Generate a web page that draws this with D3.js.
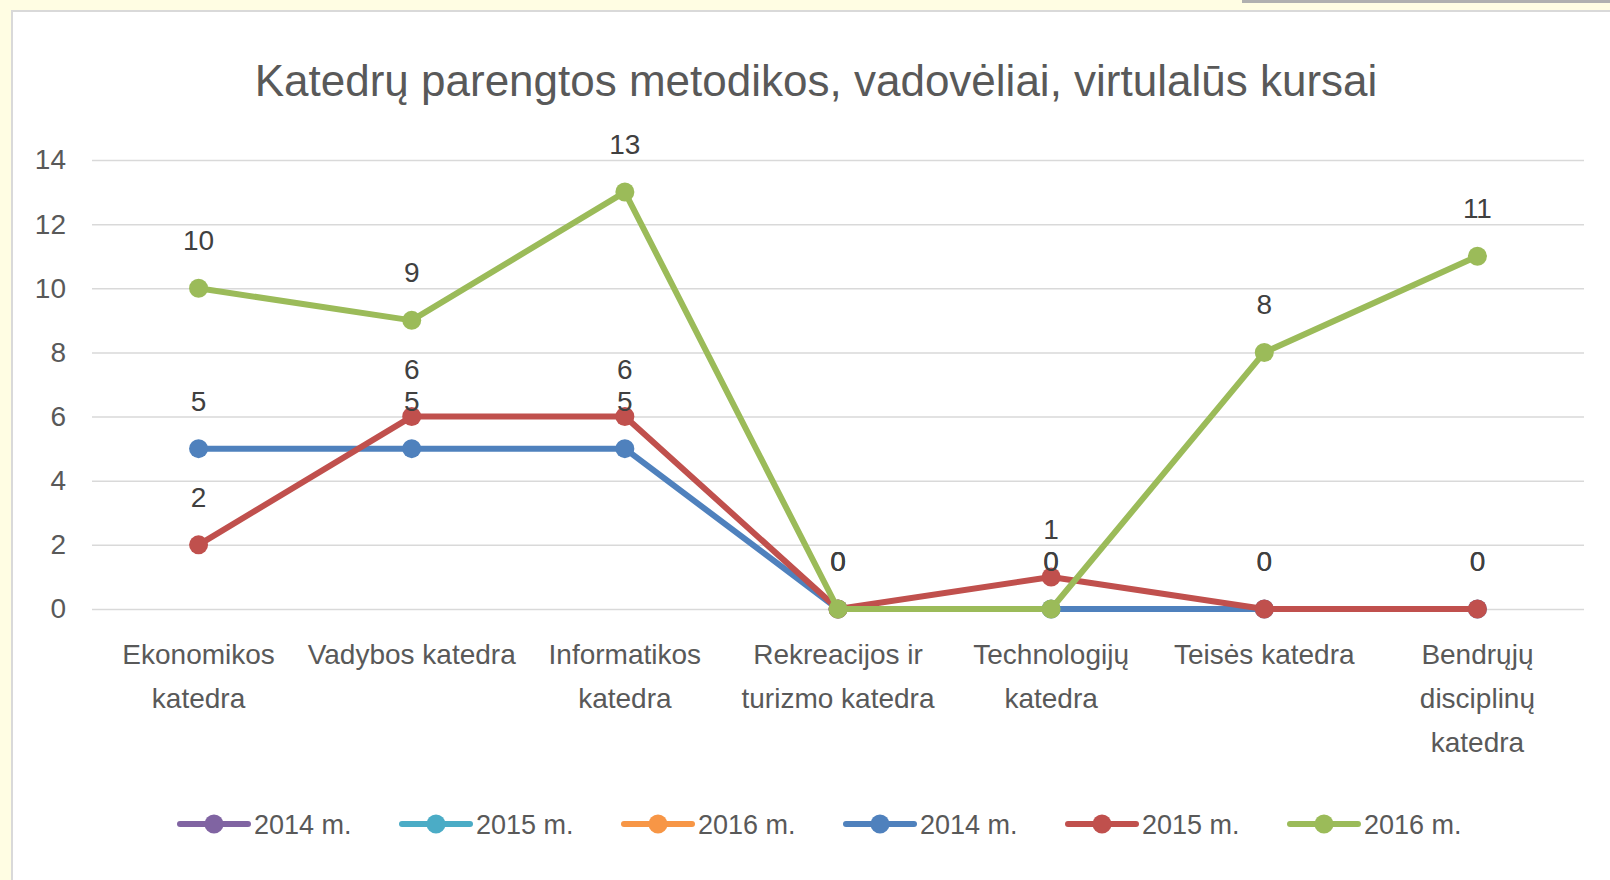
<!DOCTYPE html>
<html>
<head>
<meta charset="utf-8">
<script src="https://cdn.jsdelivr.net/npm/d3@7"></script>
<style>
  html, body { margin: 0; padding: 0; background: #fffde3; }
  svg { display: block; }
</style>
</head>
<body>
<div id="chart"></div>
<script>
// chart data
const categories = [
    ["Ekonomikos", "katedra"],
    ["Vadybos katedra"],
    ["Informatikos", "katedra"],
    ["Rekreacijos ir", "turizmo katedra"],
    ["Technologijų", "katedra"],
    ["Teisės katedra"],
    ["Bendrųjų", "disciplinų", "katedra"]
];
const values2014 = [5, 5, 5, 0, 0, 0, 0];
const values2015 = [2, 6, 6, 0, 1, 0, 0];
const values2016 = [10, 9, 13, 0, 0, 8, 11];
const yTicks = [0, 2, 4, 6, 8, 10, 12, 14];
const legendNames = ["2014 m.", "2015 m.", "2016 m.", "2014 m.", "2015 m.", "2016 m."];
const legendColors = ["#8064A2", "#4BACC6", "#F79646", "#4F81BD", "#C0504D", "#9BBB59"];

const series = [
    {name: "2014 m.", values: values2014, color: "#4F81BD"},
    {name: "2015 m.", values: values2015, color: "#C0504D"},
    {name: "2016 m.", values: values2016, color: "#9BBB59"}
];

const width = 1610, height = 880;
const margin = {top: 160, right: 26, bottom: 271, left: 92};
const font = "'Liberation Sans Narrow', 'Liberation Sans', Arial, sans-serif";

const svg = d3.select("#chart").append("svg")
    .attr("width", width)
    .attr("height", height);

// page background and chart panel
svg.append("rect").attr("width", width).attr("height", height).attr("fill", "#fffde3");
svg.append("rect")
    .attr("x", 12).attr("y", 11)
    .attr("width", width).attr("height", height)
    .attr("fill", "#ffffff")
    .attr("stroke", "#d9d9d9")
    .attr("stroke-width", 2);
svg.append("rect")
    .attr("x", 1242).attr("y", 0)
    .attr("width", width - 1242).attr("height", 3)
    .attr("fill", "#b0b0b0");

svg.append("text")
    .attr("x", 816)
    .attr("y", 96)
    .attr("text-anchor", "middle")
    .attr("font-family", font)
    .attr("font-size", 44)
    .attr("fill", "#595959")
    .text("Katedrų parengtos metodikos, vadovėliai, virtulalūs kursai");

const plotW = width - margin.left - margin.right;
const plotH = height - margin.top - margin.bottom;

const g = svg.append("g").attr("transform", `translate(${margin.left},${margin.top})`);

const x = d3.scalePoint()
    .domain(d3.range(categories.length))
    .range([0, plotW])
    .padding(0.5);

const y = d3.scaleLinear()
    .domain([0, 14])
    .range([plotH, 0]);

// gridlines + y labels
const yAxis = d3.axisLeft(y).tickValues(yTicks).tickSize(-plotW).tickPadding(26);
const yg = g.append("g").call(yAxis);
yg.select(".domain").remove();
yg.selectAll(".tick line").attr("stroke", "#d9d9d9").attr("stroke-width", 1.5);
yg.selectAll(".tick text")
    .attr("font-family", font)
    .attr("font-size", 28)
    .attr("fill", "#595959");

// x category labels
const xg = g.append("g").attr("transform", `translate(0,${plotH})`);
categories.forEach((lines, i) => {
    const t = xg.append("text")
        .attr("x", x(i))
        .attr("y", 55)
        .attr("text-anchor", "middle")
        .attr("font-family", font)
        .attr("font-size", 28)
        .attr("fill", "#595959");
    lines.forEach((ln, j) => {
        t.append("tspan").attr("x", x(i)).attr("dy", j === 0 ? 0 : 44).text(ln);
    });
});

const line = d3.line()
    .x((d, i) => x(i))
    .y(d => y(d));

series.forEach(s => {
    const sg = g.append("g");
    sg.append("path")
        .datum(s.values)
        .attr("d", line)
        .attr("fill", "none")
        .attr("stroke", s.color)
        .attr("stroke-width", 6)
        .attr("stroke-linejoin", "round");
    sg.selectAll("circle")
        .data(s.values)
        .enter().append("circle")
        .attr("cx", (d, i) => x(i))
        .attr("cy", d => y(d))
        .attr("r", 9.5)
        .attr("fill", s.color);
});

// data labels
series.forEach(s => {
    g.append("g").selectAll("text")
        .data(s.values)
        .enter().append("text")
        .attr("x", (d, i) => x(i))
        .attr("y", d => y(d) - 38)
        .attr("text-anchor", "middle")
        .attr("font-family", font)
        .attr("font-size", 28)
        .attr("fill", "#404040")
        .text(d => d);
});

// legend
const legend = svg.append("g").attr("transform", "translate(180,824)");
legendNames.forEach((name, i) => {
    const lg = legend.append("g").attr("transform", `translate(${i * 222},0)`);
    lg.append("line")
        .attr("x1", 0).attr("x2", 68)
        .attr("stroke", legendColors[i])
        .attr("stroke-width", 6)
        .attr("stroke-linecap", "round");
    lg.append("circle").attr("cx", 34).attr("r", 9.5).attr("fill", legendColors[i]);
    lg.append("text")
        .attr("x", 74)
        .attr("y", 10)
        .attr("font-family", font)
        .attr("font-size", 27)
        .attr("fill", "#595959")
        .text(name);
});
</script>
</body>
</html>
